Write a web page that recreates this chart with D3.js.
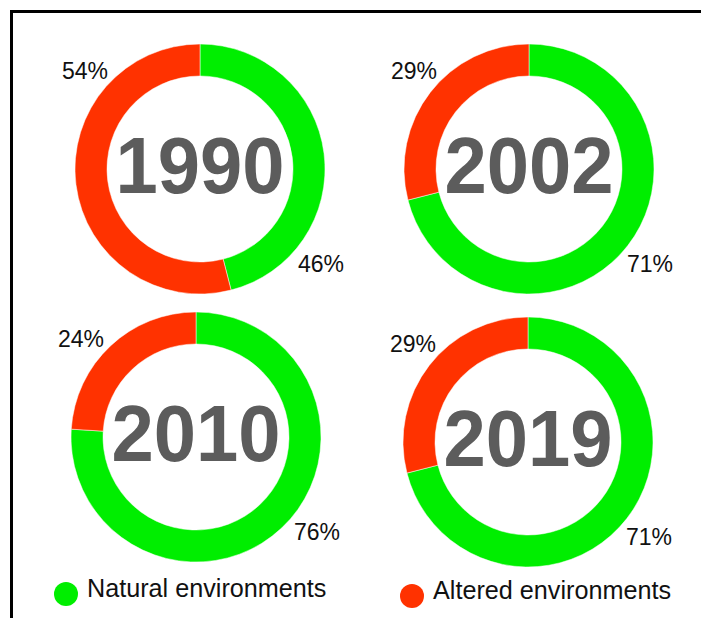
<!DOCTYPE html>
<html>
<head>
<meta charset="utf-8">
<script src="https://cdn.jsdelivr.net/npm/d3@7"></script>
<style>
  html, body { margin: 0; padding: 0; background: #fff; overflow: hidden; }
  svg { display: block; }
  text { font-family: "Liberation Sans", Arial, sans-serif; }
</style>
</head>
<body>
<svg id="chart" width="701" height="618"></svg>
<script>
// Share of land cover by year (percent)
const years = ["1990", "2002", "2010", "2019"];
const natural = [46, 71, 76, 71];
const altered = [54, 29, 24, 29];
const categories = ["Natural environments", "Altered environments"];
const colors = ["#00ee00", "#ff3200"];

// Donut centres on the 2x2 grid
const centres = [[200, 169], [529, 169], [196, 437], [528, 442]];
const outerR = 125, innerR = 93;

const svg = d3.select("#chart");

// Frame
svg.append("rect")
  .attr("x", 11.5).attr("y", 11.5)
  .attr("width", 800).attr("height", 700)
  .attr("fill", "none").attr("stroke", "#000").attr("stroke-width", 3);

const color = d3.scaleOrdinal().domain(categories).range(colors);
const pie = d3.pie().sort(null).value(d => d.value);
const arc = d3.arc().innerRadius(innerR).outerRadius(outerR);

years.forEach((year, i) => {
  const data = [
    { key: categories[0], value: natural[i] },
    { key: categories[1], value: altered[i] }
  ];
  const g = svg.append("g")
    .attr("transform", `translate(${centres[i][0]},${centres[i][1]})`);

  g.selectAll("path")
    .data(pie(data))
    .join("path")
    .attr("d", arc)
    .attr("fill", d => color(d.data.key))
    .attr("stroke", "#fff")
    .attr("stroke-width", 0.5);

  g.append("text")
    .attr("transform", "translate(0,24) scale(0.95,1)")
    .attr("text-anchor", "middle")
    .attr("font-weight", "bold")
    .attr("font-size", 80)
    .attr("fill", "#5c5c5c")
    .text(year);

  // Altered share, top left
  g.append("text")
    .attr("x", -115).attr("y", -90)
    .attr("text-anchor", "middle")
    .attr("font-size", 23)
    .attr("fill", "#111")
    .text(altered[i] + "%");

  // Natural share, bottom right
  g.append("text")
    .attr("x", 121).attr("y", 103)
    .attr("text-anchor", "middle")
    .attr("font-size", 23)
    .attr("fill", "#111")
    .text(natural[i] + "%");
});

// Legend
const legendPos = [[66, 594], [412, 596]];
categories.forEach((c, i) => {
  const lg = svg.append("g")
    .attr("transform", `translate(${legendPos[i][0]},${legendPos[i][1]})`);
  lg.append("circle").attr("r", 12).attr("fill", color(c));
  lg.append("text")
    .attr("x", 21).attr("y", 3)
    .attr("font-size", 25.2)
    .attr("fill", "#111")
    .text(c);
});
</script>
</body>
</html>
